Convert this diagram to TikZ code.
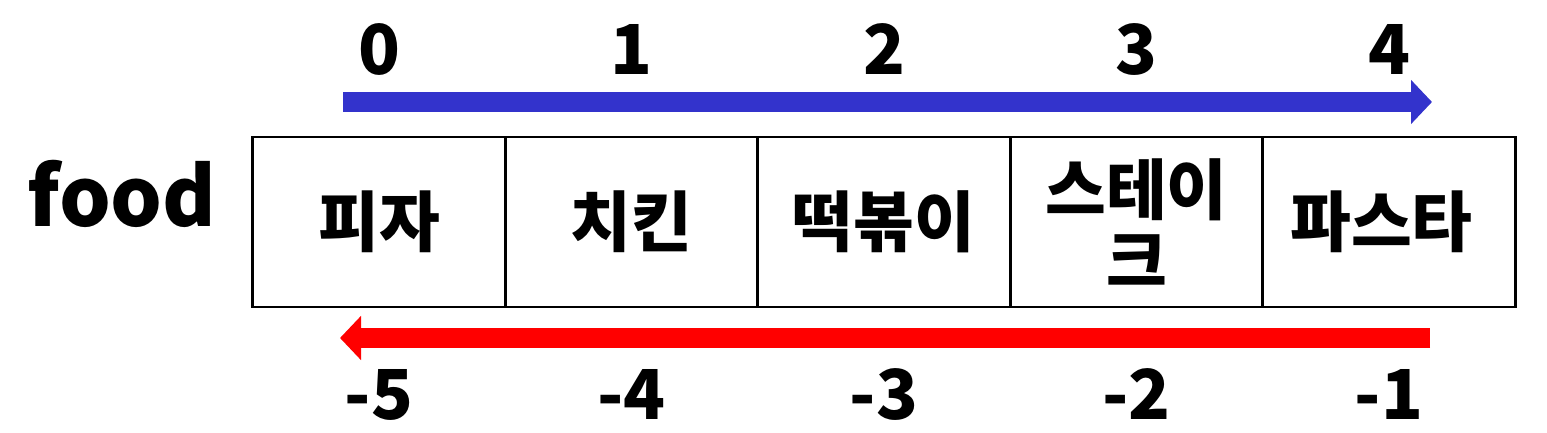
\documentclass[tikz,border=0pt]{standalone}
\usepackage{fontspec}
\setmainfont{Noto Sans CJK KR}
\usetikzlibrary{arrows.meta}
\definecolor{fwdblue}{HTML}{3333CC}
\definecolor{backred}{HTML}{FF0000}
\tikzset{
    cell/.style={
        draw,
        line width=0.7mm,
        minimum width=63.1mm,
        minimum height=42.5mm,
        inner sep=0mm,
        align=center,
        font=\fontsize{47}{51}\selectfont\bfseries
    },
    idx/.style={
        anchor=base,
        inner sep=0mm,
        font=\fontsize{49}{49}\selectfont\bfseries
    },
    flow/.style={
        line width=5mm,
        -{Triangle[length=5.25mm,width=10.75mm]}
    }
}
\begin{document}
\begin{tikzpicture}[x=0.25mm,y=-0.25mm]
    \useasboundingbox (0,0) rectangle (1547,433);
    % the list and its name
    \node[anchor=base,inner sep=0mm,font=\fontsize{58}{58}\selectfont\bfseries] (name) at (122,227) {food};
    \foreach \i/\x/\w in {
        0/379/피자,
        1/631.5/치킨,
        2/884/떡볶이,
        3/1136.5/스테이\\크,
        4/1389/파스타
    }
        \node[cell] (c\i) at (\x,222) {\w};
    % forward and backward indices
    \foreach \i [evaluate=\i as \n using int(\i-5)] in {0,...,4} {
        \path (c\i.north) ++(0,-61) node[idx] (t\i) {\i};
        \path (c\i.south) ++(0,111) node[idx] (b\i) {\n};
    }
    \coordinate (fs) at (343,102);
    \coordinate (fe) at (1432,102);
    \coordinate (bs) at (1430,338);
    \coordinate (be) at (340,338);
    \draw[flow,fwdblue] (fs) -- (fe);
    \draw[flow,backred] (bs) -- (be);
\end{tikzpicture}
\end{document}
